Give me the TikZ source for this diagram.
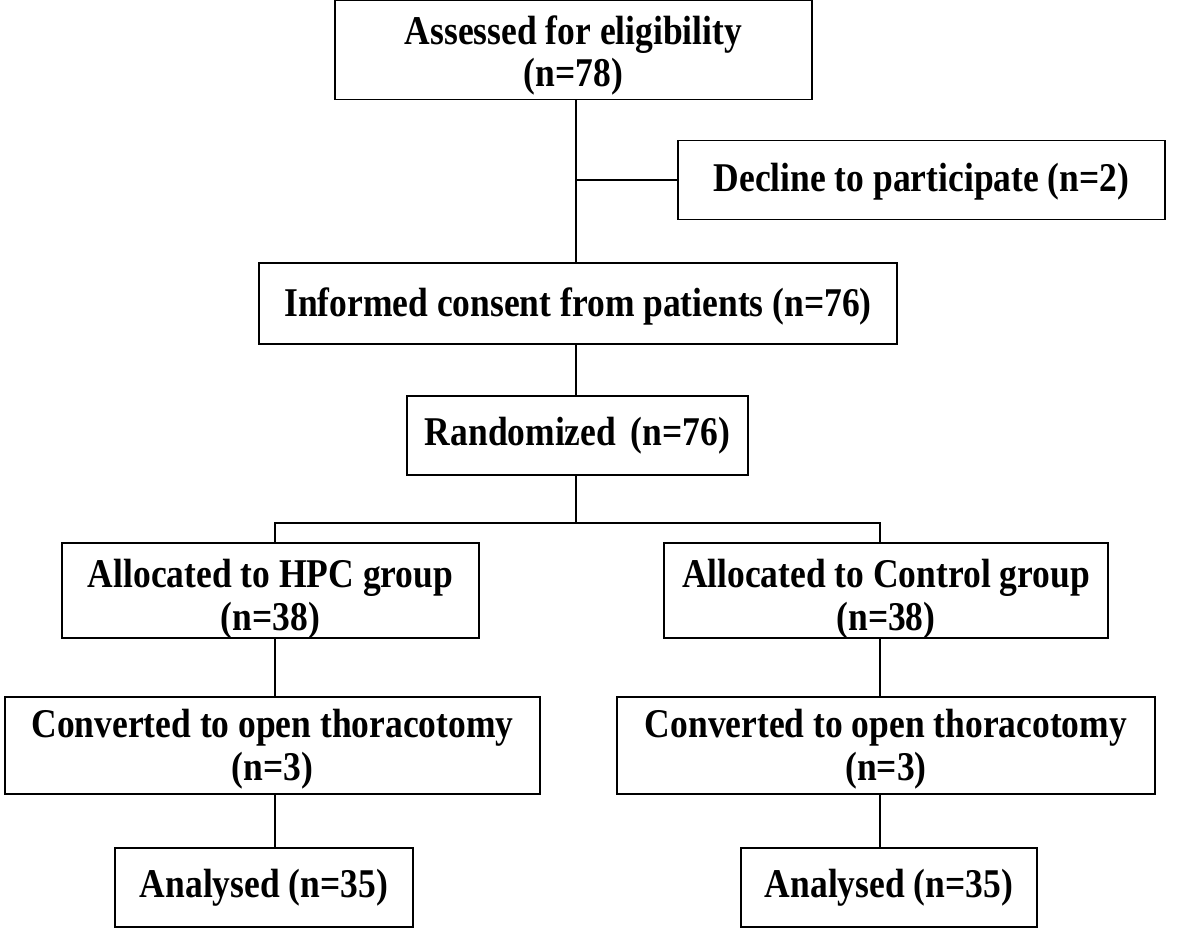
\documentclass[tikz,border=0pt]{standalone}
\usepackage{graphicx}
\usepackage{fontspec}
\setmainfont{Liberation Serif}
\newcommand{\boxtext}[2][0pt]{\raisebox{#1}[\height][\depth]{\scalebox{1}[1.15]{\begin{tabular}{@{}c@{}}#2\end{tabular}}}}
\begin{document}
\begin{tikzpicture}[x=1pt,y=-1pt,
  box/.style={draw=black, line width=1.6pt, fill=white, inner sep=0pt, align=center,
    font=\bfseries\fontsize{35.5}{37}\selectfont},
  conn/.style={draw=black, line width=1.4pt}]
\useasboundingbox (0,0) rectangle (1181,929);
\node[box, minimum width=477, minimum height=99] (elig) at (573.5,50) {\boxtext[-7pt]{Assessed for eligibility\\(n=78)}};
\node[box, minimum width=487, minimum height=79] (dec) at (921.5,180) {\boxtext[-3pt]{Decline to participate (n=2)}};
\node[box, minimum width=638, minimum height=81] (cons) at (578,303.5) {\boxtext[-4pt]{Informed consent from patients (n=76)}};
\node[box, minimum width=341, minimum height=79] (rand) at (577.5,435.5) {\boxtext[-1pt]{Randomized\, (n=76)}};
\node[box, minimum width=417, minimum height=95] (hpc) at (270.5,590.5) {\boxtext[-10pt]{Allocated to HPC group\\(n=38)}};
\node[box, minimum width=444, minimum height=95] (ctl) at (886,590.5) {\boxtext[-10pt]{Allocated to Control group\\(n=38)}};
\node[box, minimum width=535, minimum height=97] (conl) at (272.5,745.5) {\boxtext[-5pt]{Converted to open thoracotomy\\(n=3)}};
\node[box, minimum width=538, minimum height=97] (conr) at (886,745.5) {\boxtext[-5pt]{Converted to open thoracotomy\\(n=3)}};
\node[box, minimum width=298, minimum height=79] (anl) at (264,887.5) {\boxtext[-1pt]{Analysed (n=35)}};
\node[box, minimum width=296, minimum height=79] (anr) at (889,887.5) {\boxtext[-1pt]{Analysed (n=35)}};
\coordinate (trunk) at (576,0);
\coordinate (lx) at (275,0);
\coordinate (rx) at (880,0);
\draw[conn] (trunk |- elig.south) -- (trunk |- cons.north);
\draw[conn] (trunk |- dec.west) -- (dec.west);
\draw[conn] (trunk |- cons.south) -- (trunk |- rand.north);
\draw[conn] (trunk |- rand.south) -- (576,523);
\draw[conn] (lx |- hpc.north) -- (275,523) -- (880,523) -- (rx |- ctl.north);
\draw[conn] (lx |- hpc.south) -- (lx |- conl.north);
\draw[conn] (rx |- ctl.south) -- (rx |- conr.north);
\draw[conn] (lx |- conl.south) -- (lx |- anl.north);
\draw[conn] (rx |- conr.south) -- (rx |- anr.north);
\end{tikzpicture}
\end{document}
